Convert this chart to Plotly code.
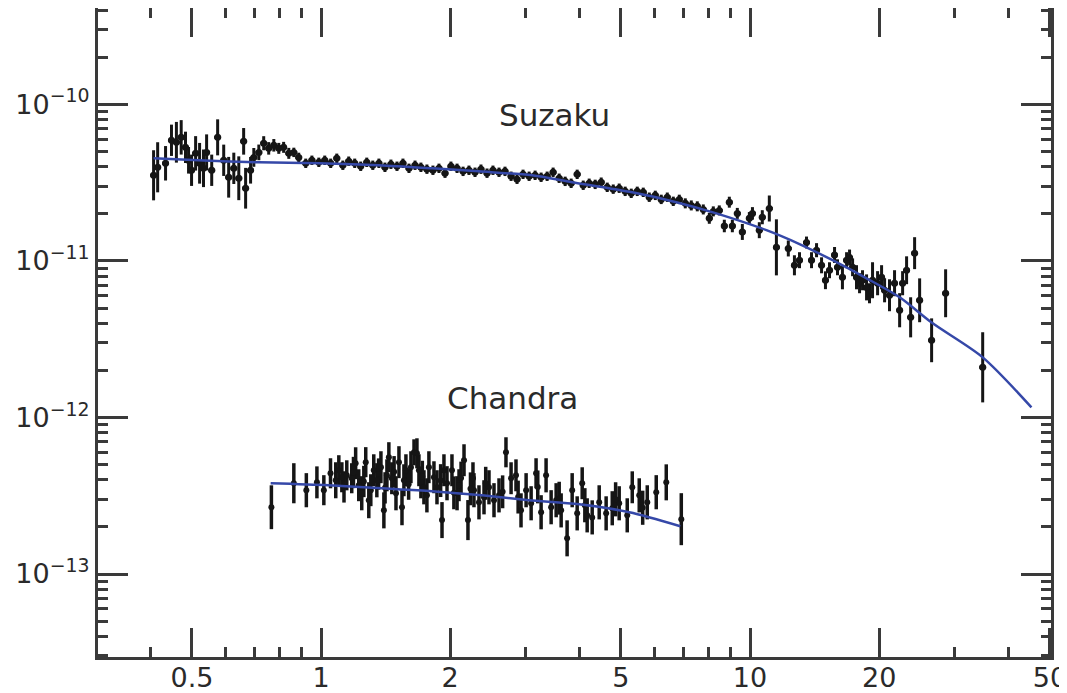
import numpy as np
import plotly.graph_objects as go

# ---------------- data ----------------
# Suzaku spectrum: energy [keV], flux [1e-11 units], half error-bar [dex]
suzaku_energy = [
    0.407, 0.416, 0.434, 0.448, 0.460, 0.472, 0.483, 0.491, 0.499, 0.510,
    0.521, 0.532, 0.541, 0.556, 0.574, 0.593, 0.609, 0.626, 0.643, 0.660,
    0.667, 0.685, 0.697, 0.716, 0.735, 0.755, 0.776, 0.797, 0.818, 0.841,
    0.864, 0.887, 0.921, 0.952, 0.988,
    1.020, 1.053, 1.088, 1.124, 1.160, 1.198, 1.237, 1.278, 1.320, 1.364,
    1.409, 1.455, 1.503, 1.552, 1.603, 1.656, 1.709, 1.765, 1.823, 1.883,
    1.945, 2.008, 2.075, 2.143, 2.212, 2.285, 2.359, 2.437, 2.516, 2.599,
    2.684, 2.773, 2.863, 2.957, 3.055, 3.155, 3.258, 3.365, 3.475, 3.589,
    3.707, 3.828, 3.954, 4.084, 4.217, 4.355, 4.498, 4.646, 4.798, 4.954,
    5.116, 5.285, 5.458, 5.637, 5.822, 6.013, 6.208, 6.413, 6.623, 6.840,
    7.064, 7.295, 7.534, 7.780, 8.036, 8.210, 8.479, 8.711, 8.948, 9.094,
    9.340, 9.595, 9.963, 10.13, 10.51, 10.68, 11.09,
    11.52, 12.28, 12.69, 13.04, 13.54, 13.91, 14.29, 14.68, 14.99, 15.32,
    15.74, 15.99, 16.42, 16.79, 17.06, 17.34, 17.71, 18.00, 18.29, 18.69,
    18.99, 19.30, 19.83, 20.26, 20.59, 21.14, 21.72, 22.32, 22.68, 23.17,
    23.68, 24.19, 24.85, 26.50, 28.57, 34.86,
]
suzaku_flux_e11 = [
    3.52, 3.96, 4.20, 5.89, 5.72, 6.15, 5.31, 4.39, 3.79, 4.86,
    4.20, 3.90, 4.93, 3.79, 6.15, 4.39, 3.42, 3.90, 3.37, 5.80,
    2.91, 3.79, 4.58, 4.93, 5.64, 5.23, 5.47, 5.23, 5.31, 4.86,
    4.93, 4.58, 4.20, 4.39, 4.26,
    4.39, 4.20, 4.52, 4.08, 4.33, 4.20, 4.02, 4.26, 4.08, 4.20,
    3.96, 4.14, 4.02, 4.20, 3.90, 4.08, 3.96, 3.85, 3.79, 3.90,
    3.63, 4.02, 3.90, 3.73, 3.79, 3.68, 3.85, 3.63, 3.79, 3.68,
    3.73, 3.47, 3.32, 3.57, 3.47, 3.52, 3.42, 3.47, 3.68, 3.37,
    3.22, 3.13, 3.57, 3.04, 3.13, 3.08, 3.18, 2.95, 2.87, 2.91,
    2.78, 2.70, 2.78, 2.74, 2.55, 2.62, 2.47, 2.55, 2.40, 2.47,
    2.33, 2.26, 2.23, 2.13, 1.87, 2.07, 2.10, 1.67, 2.37, 1.67,
    2.01, 1.53, 1.87, 2.01, 1.57, 1.90, 2.16,
    1.22, 1.20, 0.937, 1.01, 1.31, 1.01, 1.17, 0.937, 0.752, 0.871,
    1.09, 0.910, 0.786, 1.01, 1.05, 0.910, 0.786, 0.720, 0.752, 0.677,
    0.621, 0.752, 0.720, 0.786, 0.649, 0.603, 0.720, 0.484, 0.720, 0.871,
    0.436, 1.12, 0.560, 0.311, 0.621, 0.209,
]
suzaku_err_dex = [
    0.16, 0.16, 0.11, 0.10, 0.13, 0.11, 0.10, 0.085, 0.10, 0.11,
    0.13, 0.12, 0.115, 0.10, 0.115, 0.10, 0.13, 0.10, 0.14, 0.085,
    0.13, 0.085, 0.06, 0.05, 0.045, 0.04, 0.04, 0.035, 0.035, 0.035,
    0.03, 0.03, 0.03, 0.03, 0.03,
    0.03, 0.03, 0.03, 0.03, 0.03, 0.03, 0.03, 0.03, 0.03, 0.03,
    0.03, 0.03, 0.03, 0.03, 0.03, 0.03, 0.03, 0.03, 0.03, 0.03,
    0.03, 0.03, 0.03, 0.03, 0.03, 0.03, 0.03, 0.03, 0.03, 0.03,
    0.03, 0.03, 0.03, 0.03, 0.03, 0.03, 0.03, 0.03, 0.03, 0.03,
    0.03, 0.03, 0.03, 0.03, 0.03, 0.03, 0.03, 0.03, 0.03, 0.03,
    0.03, 0.03, 0.03, 0.03, 0.03, 0.03, 0.03, 0.03, 0.03, 0.03,
    0.032, 0.032, 0.032, 0.032, 0.035, 0.032, 0.032, 0.04, 0.035, 0.04,
    0.035, 0.051, 0.04, 0.04, 0.051, 0.045, 0.083,
    0.179, 0.051, 0.064, 0.051, 0.038, 0.051, 0.045, 0.051, 0.057, 0.051,
    0.051, 0.051, 0.077, 0.051, 0.051, 0.057, 0.077, 0.064, 0.064, 0.083,
    0.064, 0.115, 0.077, 0.077, 0.077, 0.102, 0.083, 0.109, 0.077, 0.089,
    0.128, 0.102, 0.140, 0.140, 0.153, 0.224,
]
# half width of the energy bins [dex]
suzaku_bin_dex = 0.008

# Chandra spectrum: energy [keV], flux [1e-13 units], half error-bar [dex]
chandra_energy = [
    0.766, 0.864, 0.924, 0.978, 1.015, 1.052, 1.082, 1.100, 1.118, 1.148,
    1.179, 1.204, 1.224, 1.244, 1.271, 1.292, 1.306, 1.327, 1.349, 1.379,
    1.401, 1.424, 1.439, 1.462, 1.495, 1.519, 1.544, 1.560, 1.577, 1.620,
    1.647, 1.673, 1.691, 1.709, 1.737, 1.765, 1.784, 1.833, 1.863, 1.914,
    1.934, 1.966, 2.019, 2.075, 2.097, 2.154, 2.200, 2.260, 2.272, 2.334,
    2.398, 2.463, 2.530, 2.599, 2.698, 2.773, 2.847, 2.925, 3.006, 3.088,
    3.171, 3.258, 3.346, 3.438, 3.532, 3.628, 3.746, 3.849, 3.954, 4.062,
    4.172, 4.286, 4.450, 4.619, 4.773, 4.954, 5.173, 5.314, 5.517, 5.760,
    6.044, 6.378, 6.914,
    1.131, 1.190, 1.258, 1.362, 1.410, 1.480, 1.600, 1.722, 1.900, 2.040,
    2.120, 2.230, 2.420, 2.650, 2.880, 3.200, 3.590, 4.120, 4.860, 5.620,
]
chandra_flux_e13 = [
    2.67, 3.80, 3.43, 3.85, 3.43, 4.40, 3.97, 4.60, 4.15, 4.27,
    4.09, 5.10, 3.69, 3.28, 5.18, 2.96, 3.43, 4.60, 3.97, 4.81,
    2.55, 4.27, 5.57, 4.09, 3.28, 5.18, 2.67, 3.97, 4.60, 4.81,
    5.99, 5.90, 4.60, 3.85, 3.58, 3.18, 4.81, 4.15, 3.58, 2.21,
    4.60, 3.80, 4.60, 3.28, 3.69, 5.33, 2.21, 4.09, 3.43, 2.87,
    3.09, 3.58, 2.96, 3.18, 5.99, 4.09, 4.27, 2.55, 3.43, 2.83,
    4.40, 2.48, 4.27, 2.67, 2.96, 2.55, 1.69, 3.43, 2.44, 3.80,
    2.37, 2.30, 2.87, 2.44, 2.63, 2.83, 2.37, 3.58, 3.18, 2.87,
    3.33, 3.85, 2.24,
    3.60, 4.45, 3.90, 4.35, 3.55, 4.50, 3.75, 4.20, 3.95, 3.30,
    4.10, 3.50, 3.80, 3.35, 3.10, 3.60, 3.05, 2.75, 3.00, 2.65,
]
chandra_err_dex = [
    0.140, 0.128, 0.109, 0.102, 0.096, 0.096, 0.115, 0.096, 0.096, 0.096,
    0.096, 0.102, 0.102, 0.109, 0.096, 0.115, 0.102, 0.102, 0.109, 0.102,
    0.115, 0.102, 0.096, 0.102, 0.109, 0.102, 0.115, 0.102, 0.102, 0.102,
    0.083, 0.096, 0.102, 0.102, 0.109, 0.109, 0.102, 0.102, 0.109, 0.115,
    0.102, 0.109, 0.102, 0.109, 0.102, 0.102, 0.128, 0.102, 0.109, 0.109,
    0.109, 0.109, 0.109, 0.109, 0.096, 0.102, 0.102, 0.109, 0.109, 0.109,
    0.096, 0.109, 0.109, 0.109, 0.109, 0.109, 0.115, 0.109, 0.109, 0.102,
    0.109, 0.109, 0.109, 0.109, 0.109, 0.109, 0.109, 0.102, 0.109, 0.109,
    0.109, 0.115, 0.166,
    0.100, 0.100, 0.100, 0.100, 0.100, 0.100, 0.100, 0.100, 0.105, 0.105,
    0.105, 0.105, 0.105, 0.105, 0.105, 0.105, 0.105, 0.109, 0.109, 0.109,
]

# best-fit model curves
suzaku_model_energy = [0.407, 0.518, 0.716, 0.988, 1.364, 1.814, 2.334, 3.105,
                       3.848, 5.313, 6.731, 8.346, 10.92, 13.04, 15.57, 18.69,
                       22.32, 26.66, 34.86, 45.29]
suzaku_model_flux_e11 = [4.52, 4.39, 4.26, 4.20, 4.08, 3.90, 3.73, 3.52,
                         3.18, 2.74, 2.37, 2.01, 1.57, 1.28, 1.01, 0.774,
                         0.585, 0.399, 0.242, 0.116]
chandra_model_energy = [0.763, 1.042, 1.386, 1.814, 2.372, 3.055, 3.997, 5.229, 6.877]
chandra_model_flux_e13 = [3.80, 3.69, 3.53, 3.38, 3.18, 2.96, 2.79, 2.48, 2.02]

x_major = [0.5, 1, 2, 5, 10, 20, 50]
x_major_text = ["0.5", "1", "2", "5", "10", "20", "50"]
x_minor = [0.4, 0.6, 0.7, 0.8, 0.9, 3, 4, 6, 7, 8, 9, 30, 40]
y_exponents = [-13, -12, -11, -10]

# ---------------- build ----------------
def with_errors(vals, scale, dex):
    v = np.array(vals) * scale
    d = np.array(dex)
    return v, v * (10 ** d - 1), v * (1 - 10 ** (-d))

s_y, s_up, s_dn = with_errors(suzaku_flux_e11, 1e-11, suzaku_err_dex)
c_y, c_up, c_dn = with_errors(chandra_flux_e13, 1e-13, chandra_err_dex)
s_x = np.array(suzaku_energy)
s_xup = s_x * (10 ** suzaku_bin_dex - 1)
s_xdn = s_x * (1 - 10 ** (-suzaku_bin_dex))

INK = "#151515"
AX = "#3a3a3a"
BLUE = "#3548a8"
FONT = "DejaVu Sans, Liberation Sans, Arial, sans-serif"

fig = go.Figure()
fig.add_trace(go.Scatter(
    x=s_x, y=s_y, mode="markers",
    marker=dict(color=INK, size=7, symbol="circle"),
    error_y=dict(type="data", array=s_up, arrayminus=s_dn, symmetric=False,
                 color=INK, thickness=3, width=0),
    error_x=dict(type="data", array=s_xup, arrayminus=s_xdn, symmetric=False,
                 color=INK, thickness=3, width=0),
    showlegend=False,
))
fig.add_trace(go.Scatter(
    x=chandra_energy, y=c_y, mode="markers",
    marker=dict(color=INK, size=6, symbol="circle"),
    error_y=dict(type="data", array=c_up, arrayminus=c_dn, symmetric=False,
                 color=INK, thickness=3.5, width=0),
    showlegend=False,
))

fig.add_trace(go.Scatter(x=suzaku_model_energy, y=np.array(suzaku_model_flux_e11) * 1e-11,
                         mode="lines", line=dict(color=BLUE, width=2.5, shape="spline", smoothing=0.8),
                         showlegend=False))
fig.add_trace(go.Scatter(x=chandra_model_energy, y=np.array(chandra_model_flux_e13) * 1e-13,
                         mode="lines", line=dict(color=BLUE, width=2.5, shape="spline", smoothing=0.8),
                         showlegend=False))

y_minor = [k * 10.0 ** e for e in range(-14, -9) for k in range(2, 10)]

fig.update_xaxes(
    type="log", range=[np.log10(0.302), np.log10(50.3)], automargin=False,
    tickmode="array", tickvals=x_major, ticktext=x_major_text,
    ticks="inside", ticklen=29, tickwidth=2.5, tickcolor=AX,
    showline=True, linewidth=3, linecolor=AX, mirror="allticks",
    showgrid=False, zeroline=False, ticklabeloverflow="allow",
    ticklabelstandoff=-5,
    tickfont=dict(family=FONT, size=27, color="#2a2a2a"),
    minor=dict(tickmode="array", tickvals=x_minor, ticks="inside", ticklen=10,
               tickwidth=2.5, tickcolor=AX, showgrid=False),
)
fig.update_yaxes(
    type="log", range=[-13.53, -9.385], automargin=False,
    tickmode="array", tickvals=[10.0 ** e for e in y_exponents],
    ticktext=[f"10<sup>\u2212{abs(e)}</sup>" for e in y_exponents],
    ticks="inside", ticklen=30, tickwidth=2.5, tickcolor=AX,
    showline=True, linewidth=3, linecolor=AX, mirror="allticks",
    showgrid=False, zeroline=False,
    tickfont=dict(family=FONT, size=27, color="#2a2a2a"),
    minor=dict(tickmode="array", tickvals=y_minor, ticks="inside", ticklen=10,
               tickwidth=2.5, tickcolor=AX, showgrid=False),
)

fig.add_annotation(x=np.log10(3.51), y=np.log10(8.5e-11), text="Suzaku", showarrow=False,
                   font=dict(family=FONT, size=31, color="#2a2a2a"))
fig.add_annotation(x=np.log10(2.80), y=np.log10(1.33e-12), text="Chandra", showarrow=False,
                   font=dict(family=FONT, size=31, color="#2a2a2a"))

# the page places the figure 8 px from the window's top-left corner
fig.update_layout(
    width=1059, height=685,
    margin=dict(l=90, r=16, t=0, b=36),
    paper_bgcolor="white", plot_bgcolor="white",
)

fig.write_html("out.html")
